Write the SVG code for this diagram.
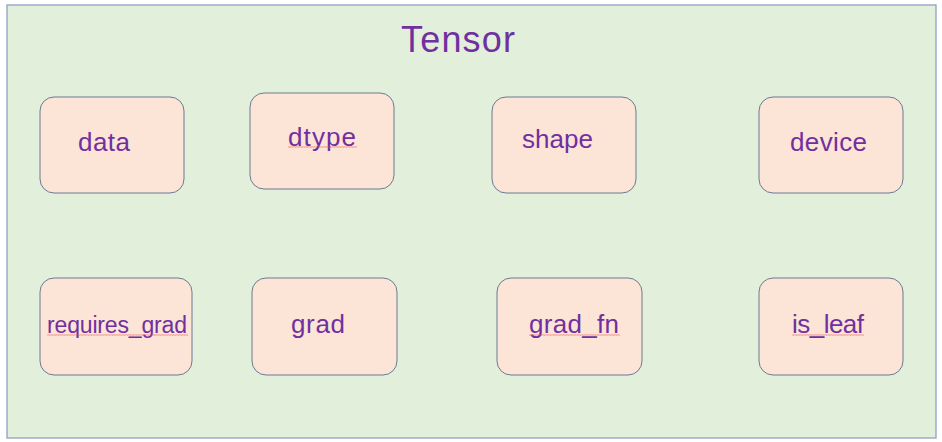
<svg xmlns="http://www.w3.org/2000/svg" width="942" height="442" viewBox="0 0 942 442">
<defs>
<style>
.frame{fill:#E2EFDA;stroke:#8EA0C4;stroke-width:1.3}
.box{fill:#FCE4D6;stroke:#6B7A94;stroke-width:1}
.lbl{font-family:"Liberation Sans",Arial,sans-serif;font-size:26px;fill:#7030A0}
.title{font-family:"Liberation Sans",Arial,sans-serif;font-size:36px;fill:#7030A0}
.sq{opacity:0.6}
</style>
<pattern id="wave" width="3" height="2" patternUnits="userSpaceOnUse">
<path d="M0,1.8 L0.75,0.3 L1.5,1.8 L2.25,0.3 L3,1.8" fill="none" stroke="#E8504A" stroke-width="0.6"/>
</pattern>
</defs>
<rect class="frame" x="7" y="5" width="929" height="433"/>
<text class="title" x="401" y="52" textLength="114">Tensor</text>
<g id="node-data">
<rect class="box" x="40" y="97" width="144" height="96" rx="14"/>
<text class="lbl" x="78" y="151" textLength="52">data</text>
</g>
<g id="node-dtype">
<rect class="box" x="250" y="93" width="144" height="96" rx="14"/>
<text class="lbl" x="288" y="146" textLength="68">dtype</text>
<rect class="sq" x="288" y="146" width="69" height="2" fill="url(#wave)"/>
</g>
<g id="node-shape">
<rect class="box" x="492" y="97" width="144" height="96" rx="14"/>
<text class="lbl" x="522" y="148" textLength="71">shape</text>
</g>
<g id="node-device">
<rect class="box" x="759" y="97" width="144" height="96" rx="14"/>
<text class="lbl" x="790" y="151" textLength="77">device</text>
</g>
<g id="node-requires_grad">
<rect class="box" x="40" y="278" width="152" height="97" rx="14"/>
<text class="lbl" x="47" y="333" style="font-size:23px" textLength="140">requires_grad</text>
<rect class="sq" x="47" y="334" width="141" height="2" fill="url(#wave)"/>
</g>
<g id="node-grad">
<rect class="box" x="252" y="278" width="145" height="97" rx="14"/>
<text class="lbl" x="291" y="333" textLength="54">grad</text>
</g>
<g id="node-grad_fn">
<rect class="box" x="497" y="278" width="145" height="97" rx="14"/>
<text class="lbl" x="529" y="333" textLength="90">grad_fn</text>
<rect class="sq" x="529" y="334" width="91" height="2" fill="url(#wave)"/>
</g>
<g id="node-is_leaf">
<rect class="box" x="759" y="278" width="144" height="97" rx="14"/>
<text class="lbl" x="792" y="333" textLength="72">is_leaf</text>
<rect class="sq" x="792" y="334" width="72" height="2" fill="url(#wave)"/>
</g>
<g id="connectors"></g>
</svg>
